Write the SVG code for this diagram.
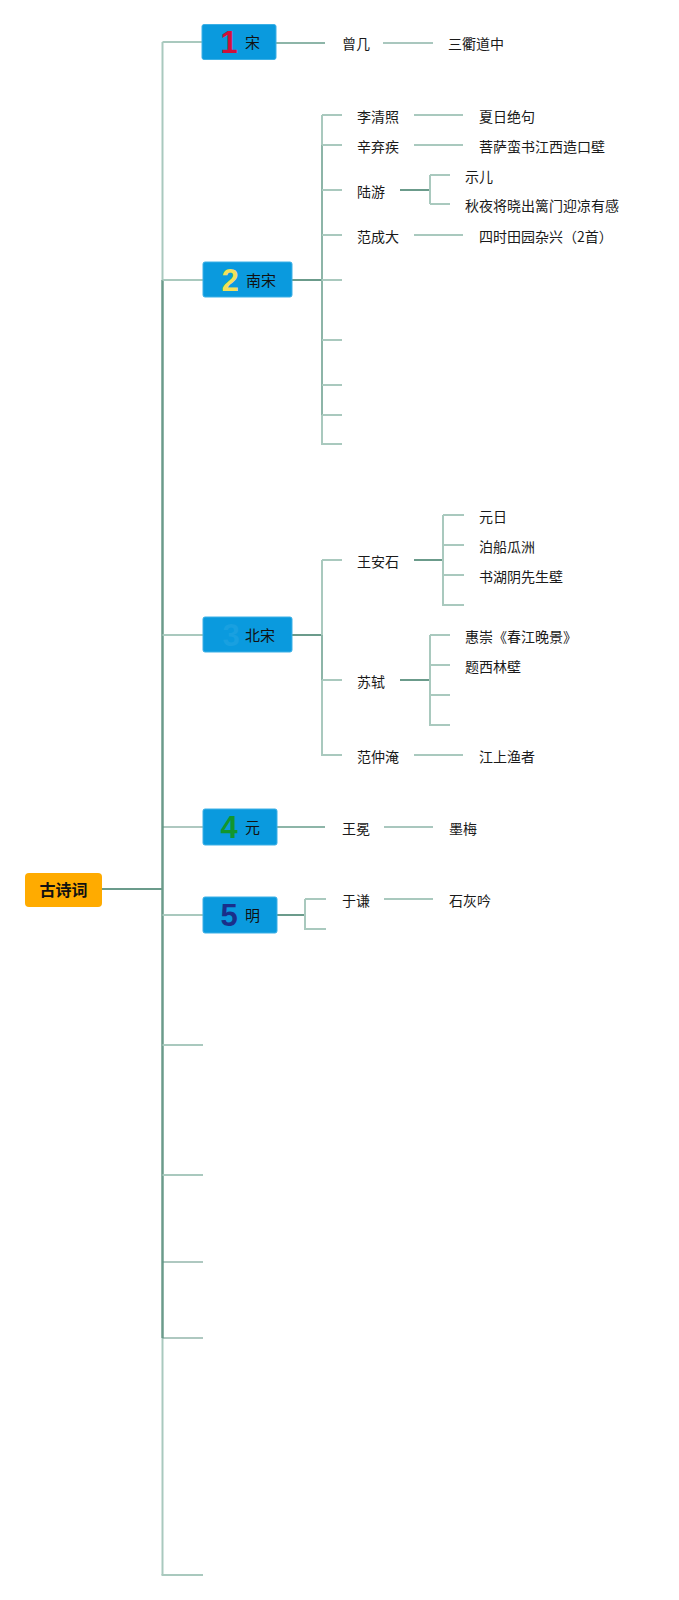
<svg xmlns="http://www.w3.org/2000/svg" width="679" height="1600" viewBox="0 0 679 1600">
<style>
.L{stroke:#a9c9be;stroke-width:2;fill:none}
.M{stroke:#8db5a8;stroke-width:2;fill:none}
.D{stroke:#6b9b8b;stroke-width:2;fill:none}
.Dt{stroke:#5e9282;stroke-width:1.2;fill:none}
.t{font-family:"Noto Sans CJK SC","Noto Sans",sans-serif;font-size:14px;fill:#1a1a1a}
.bt{font-family:"Noto Sans CJK SC","Noto Sans",sans-serif;font-size:15px;fill:#111}
.num{font-family:"Liberation Sans","DejaVu Sans",sans-serif;font-size:31px;font-weight:bold}
.box{fill:#0a9ade;stroke:#3cb0e6;stroke-width:1}
</style>
<rect width="679" height="1600" fill="#ffffff"/>
<g id="connectors">
  <path class="L" d="M162.5 42V280"/>
  <path class="D" d="M162.5 280V1338" style="stroke-width:2.5"/>
  <path class="L" d="M162.5 1338V1575"/>
  <path class="D" d="M102 889H162.5"/>
  <path class="L" d="M162.5 42H202"/>
  <path class="L" d="M162.5 280H203"/>
  <path class="L" d="M162.5 635H203"/>
  <path class="Dt" d="M162.5 827H203"/>
  <path class="L" d="M162.5 915H203"/>
  <path class="L" d="M162.5 1045H203"/>
  <path class="L" d="M162.5 1175H203"/>
  <path class="Dt" d="M162.5 1262H203"/>
  <path class="Dt" d="M162.5 1338H203"/>
  <path class="L" d="M161.5 1575H203"/>
  <path class="M" d="M276 43H325"/>
  <path class="M" d="M383 43H433" style="stroke-width:1.5"/>
  <path class="D" d="M292 280H322"/>
  <path class="L" d="M322 115V145"/>
  <path class="M" d="M322 145V415"/>
  <path class="L" d="M322 415V444"/>
  <path class="L" d="M322 115H342M322 145H342M322 190H342M322 235H342M322 280H342M322 340H342M322 385H342M322 415H342M321 444H342"/>
  <path class="L" d="M414 115H463M414 145H463M414 235H463"/>
  <path class="D" d="M400 190H430"/>
  <path class="L" d="M430 175V204M430 175H450M430 204H450"/>
  <path class="D" d="M292 635H322"/>
  <path class="L" d="M322 560V635"/>
  <path class="M" d="M322 635V680"/>
  <path class="L" d="M322 680V755"/>
  <path class="L" d="M322 560H342M322 680H342M321 755H342"/>
  <path class="D" d="M414 560H443"/>
  <path class="L" d="M443 515V605"/>
  <path class="L" d="M443 515H464M443 545H464M443 575H464M442 605H464"/>
  <path class="D" d="M400 680H430"/>
  <path class="L" d="M430 635V725"/>
  <path class="L" d="M430 635H450M430 665H450M430 695H450M429 725H450"/>
  <path class="L" d="M414 755H463"/>
  <path class="M" d="M277 827H325"/>
  <path class="M" d="M384 827H433" style="stroke-width:1.5"/>
  <path class="D" d="M277 915H305"/>
  <path class="L" d="M305 899V929M305 899H326M304 929H326"/>
  <path class="L" d="M384 899H433"/>
</g>
<g id="root">
  <rect x="25" y="873" width="77" height="34" rx="4" fill="#ffab00"/>
  <text x="63.5" y="895.5" text-anchor="middle" style="font-family:'Noto Sans CJK SC',sans-serif;font-size:16px;font-weight:bold;fill:#111">古诗词</text>
</g>
<g id="n1">
  <rect class="box" x="202" y="24.5" width="74" height="35" rx="2"/>
  <text class="num" x="229" y="53" text-anchor="middle" fill="#d0103a">1</text>
  <text class="bt" x="245" y="48">宋</text>
</g>
<g id="n1-1"><text class="t" x="342" y="49">曾几</text></g>
<g id="n1-1-1"><text class="t" x="448" y="49">三衢道中</text></g>
<g id="n2">
  <rect class="box" x="203" y="262" width="89" height="35" rx="2"/>
  <text class="num" x="230" y="291" text-anchor="middle" fill="#f2e05a">2</text>
  <text class="bt" x="246" y="285.5">南宋</text>
</g>
<g id="n2-1"><text class="t" x="357" y="122">李清照</text></g>
<g id="n2-1-1"><text class="t" x="479" y="122">夏日绝句</text></g>
<g id="n2-2"><text class="t" x="357" y="152">辛弃疾</text></g>
<g id="n2-2-1"><text class="t" x="479" y="152">菩萨蛮书江西造口壁</text></g>
<g id="n2-3"><text class="t" x="357" y="197">陆游</text></g>
<g id="n2-3-1"><text class="t" x="465" y="182">示儿</text></g>
<g id="n2-3-2"><text class="t" x="465" y="211">秋夜将晓出篱门迎凉有感</text></g>
<g id="n2-4"><text class="t" x="357" y="242">范成大</text></g>
<g id="n2-4-1"><text class="t" x="479" y="242">四时田园杂兴（2首）</text></g>
<g id="n3">
  <rect class="box" x="203" y="617" width="89" height="35" rx="2"/>
  <text class="num" x="231" y="646" text-anchor="middle" fill="#19a0e0">3</text>
  <text class="bt" x="245" y="640.5">北宋</text>
</g>
<g id="n3-1"><text class="t" x="357" y="567">王安石</text></g>
<g id="n3-1-1"><text class="t" x="479" y="522">元日</text></g>
<g id="n3-1-2"><text class="t" x="479" y="552">泊船瓜洲</text></g>
<g id="n3-1-3"><text class="t" x="479" y="582">书湖阴先生壁</text></g>
<g id="n3-2"><text class="t" x="357" y="687">苏轼</text></g>
<g id="n3-2-1"><text class="t" x="465" y="642">惠崇《春江晚景》</text></g>
<g id="n3-2-2"><text class="t" x="465" y="672">题西林壁</text></g>
<g id="n3-3"><text class="t" x="357" y="762">范仲淹</text></g>
<g id="n3-3-1"><text class="t" x="479" y="762">江上渔者</text></g>
<g id="n4">
  <rect class="box" x="203" y="809" width="74" height="36" rx="2"/>
  <text class="num" x="229" y="838" text-anchor="middle" fill="#12962e">4</text>
  <text class="bt" x="245" y="833">元</text>
</g>
<g id="n4-1"><text class="t" x="342" y="834">王冕</text></g>
<g id="n4-1-1"><text class="t" x="449" y="834">墨梅</text></g>
<g id="n5">
  <rect class="box" x="203" y="897" width="74" height="36" rx="2"/>
  <text class="num" x="229" y="926" text-anchor="middle" fill="#1a2f8a">5</text>
  <text class="bt" x="245" y="921">明</text>
</g>
<g id="n5-1"><text class="t" x="342" y="906">于谦</text></g>
<g id="n5-1-1"><text class="t" x="449" y="906">石灰吟</text></g>
</svg>
